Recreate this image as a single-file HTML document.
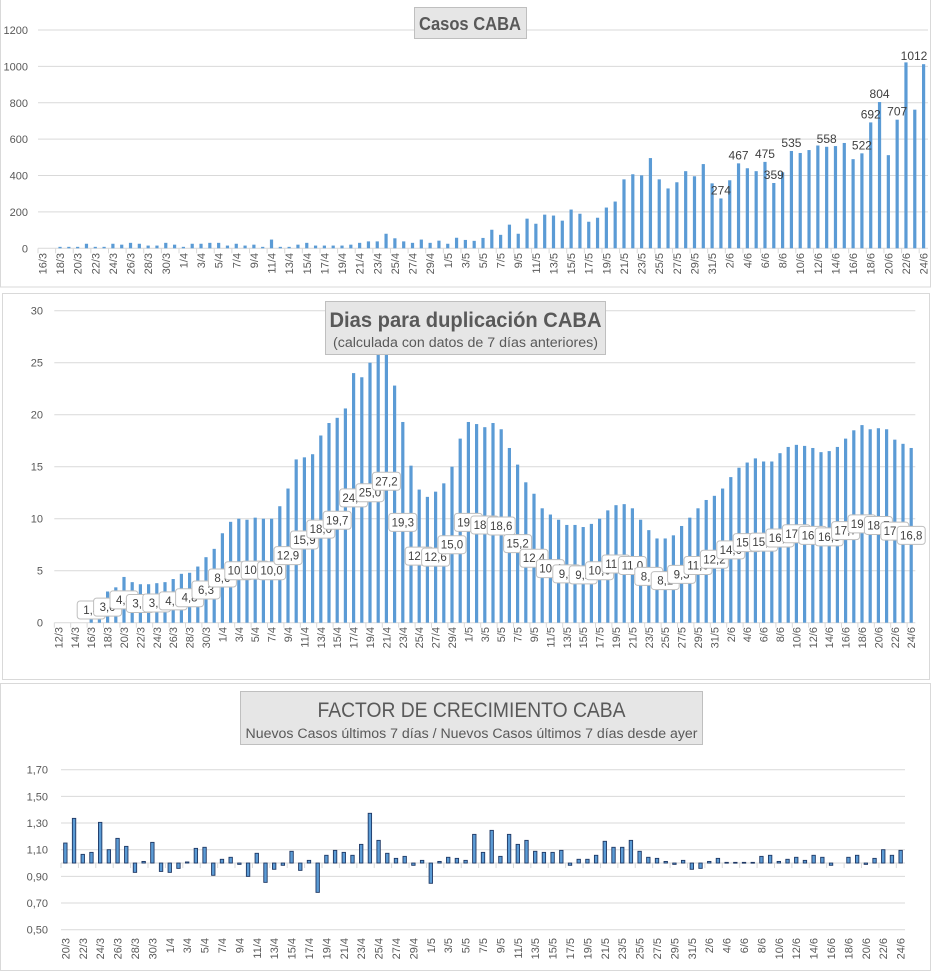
<!DOCTYPE html>
<html><head><meta charset="utf-8"><style>
html,body{margin:0;padding:0;background:#fff;}
svg{display:block;font-family:"Liberation Sans",sans-serif;}
</style></head><body>
<svg id="svg" width="932" height="972" viewBox="0 0 932 972" xmlns="http://www.w3.org/2000/svg">
<g id="g1"></g>
<g id="g2"></g>
<g id="g3"></g>
</svg>
<script>
// ---------- data ----------
const start1 = '16/3';
const casos = [0,0,
8,8,8,25,8,8,25,20,30,25,15,15,30,20,8,25,25,30,30,15,25,15,20,8,48,8,8,20,30,15,15,15,15,20,30,38,38,80,55,38,30,48,30,42,25,58,46,
41,57,102,74,130,80,163,135,185,180,152,213,190,146,168,224,257,379,407,401,496,379,329,363,424,396,463,357,274,374,467,440,424,475,359,418,535,524,540,565,558,562,579,490,522,692,804,512,707,1022,762,1012];
const casosLabeled = ['1/6','3/6','6/6','7/6','9/6','13/6','17/6','18/6','19/6','21/6','24/6'];
const ticks1 = [0,200,400,600,800,1000,1200];

const start2 = '12/3';
const dupl = [0,0,0,0,
1.4,1.5,3.0,3.4,4.4,3.9,3.7,3.7,3.8,3.9,4.2,4.7,4.8,5.4,6.3,7.1,
8.6,9.7,10.0,9.9,10.1,10.0,10.0,11.2,12.9,15.7,15.9,16.2,18.0,19.2,19.7,20.6,24.0,23.6,25.0,28.0,27.2,22.8,19.3,15.1,12.8,12.1,12.6,13.4,15.0,17.7,
19.3,19.1,18.8,19.2,18.6,16.8,15.2,13.5,12.4,11.0,10.4,9.9,9.4,9.4,9.2,9.5,10.0,10.8,11.3,11.4,11.0,9.9,8.9,8.1,8.1,8.4,9.3,10.1,11.0,11.8,12.2,
12.9,14.0,14.9,15.4,15.8,15.5,15.5,16.3,16.9,17.1,17.0,16.8,16.4,16.5,16.9,17.7,18.5,19.0,18.6,18.7,18.6,17.6,17.2,16.8];
const ticks2 = [0,5,10,15,20,25,30];

const start3 = '20/3';
const factor = [1.15,1.335,1.065,1.08,1.305,1.10,1.185,1.125,0.93,1.012,1.155,0.937,
0.93,0.96,1.008,1.11,1.118,0.908,1.028,1.043,0.99,0.90,1.073,0.855,0.953,0.983,1.088,0.945,1.02,0.78,1.058,1.095,1.08,1.058,1.14,1.373,1.17,1.073,1.035,1.05,0.983,1.02,
0.848,1.012,1.043,1.035,1.02,1.215,1.08,1.245,1.05,1.215,1.14,1.17,1.088,1.08,1.08,1.095,0.983,1.028,1.028,1.058,1.163,1.118,1.118,1.17,1.088,1.043,1.035,1.012,0.99,1.02,0.953,
0.96,1.012,1.035,1.005,1.005,1.005,1.005,1.05,1.058,1.012,1.028,1.043,1.02,1.058,1.043,0.983,1.0,1.043,1.058,0.99,1.035,1.10,1.058,1.095];
const ticks3 = [0.5,0.7,0.9,1.1,1.3,1.5,1.7];

// ---------- helpers ----------
const NS='http://www.w3.org/2000/svg';
const mdays={3:31,4:30,5:31,6:30};
function dates(s,n){let [d,m]=s.split('/').map(Number);const r=[];for(let i=0;i<n;i++){r.push(d+'/'+m);d++;if(d>mdays[m]){d=1;m++;}}return r;}
function el(p,tag,at,txt){const e=document.createElementNS(NS,tag);for(const k in at)e.setAttribute(k,at[k]);if(txt!==undefined)e.textContent=txt;p.appendChild(e);return e;}
const cat1=dates(start1,casos.length), cat2=dates(start2,dupl.length), cat3=dates(start3,factor.length);
const GRID='#d9d9d9', TXT='#595959', BAR='#5b9bd5';

function frame(g,x,y,w,h,name){
  const r=el(g,'rect',{x:x,y:y,width:w,height:h,fill:'#fff',stroke:GRID});
  
  
}
function titleBox(g,x,y,w,h,name){
  const r=el(g,'rect',{x:x,y:y,width:w,height:h,fill:'#e6e6e6',stroke:'#bfbfbf'});
  
  
}
function xLabels(g,cats,xs,yEnd,name){
  cats.forEach((c,i)=>{ if(i%2) return;
    const t=el(g,'text',{x:0,y:0,'font-size':11,fill:TXT,'text-anchor':'end',transform:`translate(${xs(i)+4},${yEnd}) rotate(-90)`},c);
    
    
  });
}

// ---------- chart 1 ----------
(function(){
  const g=document.getElementById('g1');
  frame(g,0.5,-1,930,288,'casos-chart-frame');
  const L=38,R=928,B=248.3,T=30,max=1200;
  const cw=(R-L)/casos.length;
  const xs=i=>L+cw*(i+0.5), ys=v=>B-(v/max)*(B-T);
  ticks1.forEach(t=>{
    el(g,'line',{x1:L,x2:R,y1:ys(t),y2:ys(t),stroke:GRID});
    const lb=el(g,'text',{x:28,y:ys(t)+4,'font-size':11,fill:TXT,'text-anchor':'end'},String(t));
    
    
  });
  for(let i=0;i<=casos.length;i+=2) el(g,'line',{x1:L+cw*i,x2:L+cw*i,y1:B,y2:B+5,stroke:GRID});
  casos.forEach((v,i)=>{ if(v<=0) return;
    const b=el(g,'rect',{x:xs(i)-1.6,y:ys(v),width:3.2,height:B-ys(v),fill:BAR});
    
    
  });
  casos.forEach((v,i)=>{ if(!casosLabeled.includes(cat1[i])) return;
    let cx=Math.min(xs(i),R-14);
    const t=el(g,'text',{x:cx,y:ys(v)-4,'font-size':12,fill:'#404040','text-anchor':'middle'},String(v));
    
    
  });
  xLabels(g,cat1,xs,253,'x-tick-label');
  titleBox(g,414.5,7.5,112,31,'casos-title-box');
  const tt=el(g,'text',{x:470,y:30,'font-size':18,'font-weight':'bold',fill:'#595959','text-anchor':'middle',textLength:102,lengthAdjust:'spacingAndGlyphs'},'Casos  CABA');
  
  
})();

// ---------- chart 2 ----------
(function(){
  const g=document.getElementById('g2');
  frame(g,2.5,293.5,927,386,'duplicacion-chart-frame');
  const L=54.3,R=915.3,B=622.7,T=310.7,max=30;
  const cw=(R-L)/dupl.length;
  const xs=i=>L+cw*(i+0.5), ys=v=>B-(v/max)*(B-T);
  ticks2.forEach(t=>{
    el(g,'line',{x1:L,x2:R,y1:ys(t),y2:ys(t),stroke:GRID});
    const lb=el(g,'text',{x:43,y:ys(t)+4,'font-size':11,fill:TXT,'text-anchor':'end'},String(t));
    
    
  });
  for(let i=0;i<=dupl.length;i+=2) el(g,'line',{x1:L+cw*i,x2:L+cw*i,y1:B,y2:B+5,stroke:GRID});
  dupl.forEach((v,i)=>{ if(v<=0) return;
    const b=el(g,'rect',{x:xs(i)-1.6,y:ys(v),width:3.2,height:B-ys(v),fill:BAR});
    
    
  });
  dupl.forEach((v,i)=>{ if(i<4||i%2) return;
    let cy=Math.min(ys(v/2),610);
    const bx=el(g,'rect',{x:xs(i)-14,y:cy-9,width:28,height:18,rx:3,fill:'#fff',stroke:'#bfbfbf'});
    
    
    const t=el(g,'text',{x:xs(i),y:cy+4,'font-size':11.5,fill:'#404040','text-anchor':'middle'},v.toFixed(1).replace('.',','));
    
    
  });
  xLabels(g,cat2,xs,627,'x-tick-label');
  titleBox(g,325.5,301.5,280,53,'duplicacion-title-box');
  const t1=el(g,'text',{x:465.5,y:327,'font-size':21,'font-weight':'bold',fill:'#595959','text-anchor':'middle',textLength:272,lengthAdjust:'spacingAndGlyphs'},'Dias para duplicación CABA');
  
  
  const t2=el(g,'text',{x:465.5,y:347,'font-size':13.5,fill:'#595959','text-anchor':'middle',textLength:265,lengthAdjust:'spacingAndGlyphs'},'(calculada con datos de 7 días anteriores)');
  
  
})();

// ---------- chart 3 ----------
(function(){
  const g=document.getElementById('g3');
  frame(g,0.5,683.5,930,287,'factor-chart-frame');
  const L=61,R=905,B=929.7,T=769.7,mn=0.5,mx=1.7;
  const cw=(R-L)/factor.length;
  const xs=i=>L+cw*(i+0.5), ys=v=>B-((v-mn)/(mx-mn))*(B-T);
  ticks3.forEach(t=>{
    el(g,'line',{x1:L,x2:R,y1:ys(t),y2:ys(t),stroke:GRID});
    const lb=el(g,'text',{x:48,y:ys(t)+4,'font-size':11,fill:TXT,'text-anchor':'end'},t.toFixed(2).replace('.',','));
    
    
  });
  const y1=ys(1);
  el(g,'line',{x1:L,x2:R,y1:y1,y2:y1,stroke:GRID});
  for(let i=0;i<=factor.length;i+=2) el(g,'line',{x1:L+cw*i,x2:L+cw*i,y1:y1,y2:y1+5,stroke:GRID});
  factor.forEach((v,i)=>{ if(v===1) return;
    const top=Math.min(ys(v),y1), h=Math.abs(ys(v)-y1);
    const b=el(g,'rect',{x:xs(i)-1.7,y:top,width:3.4,height:Math.max(h,0.8),fill:BAR,stroke:'#1f3864','stroke-width':0.9});
    
    
  });
  xLabels(g,cat3,xs,938,'x-tick-label');
  titleBox(g,240.5,691.5,462,53,'factor-title-box');
  const t1=el(g,'text',{x:471.5,y:717,'font-size':21,fill:'#595959','text-anchor':'middle',textLength:308,lengthAdjust:'spacingAndGlyphs'},'FACTOR DE CRECIMIENTO CABA');
  
  
  const t2=el(g,'text',{x:471.5,y:738,'font-size':13.5,fill:'#595959','text-anchor':'middle',textLength:452,lengthAdjust:'spacingAndGlyphs'},'Nuevos Casos últimos 7 días / Nuevos Casos últimos 7 días desde ayer');
  
  
})();
</script>
</body></html>
